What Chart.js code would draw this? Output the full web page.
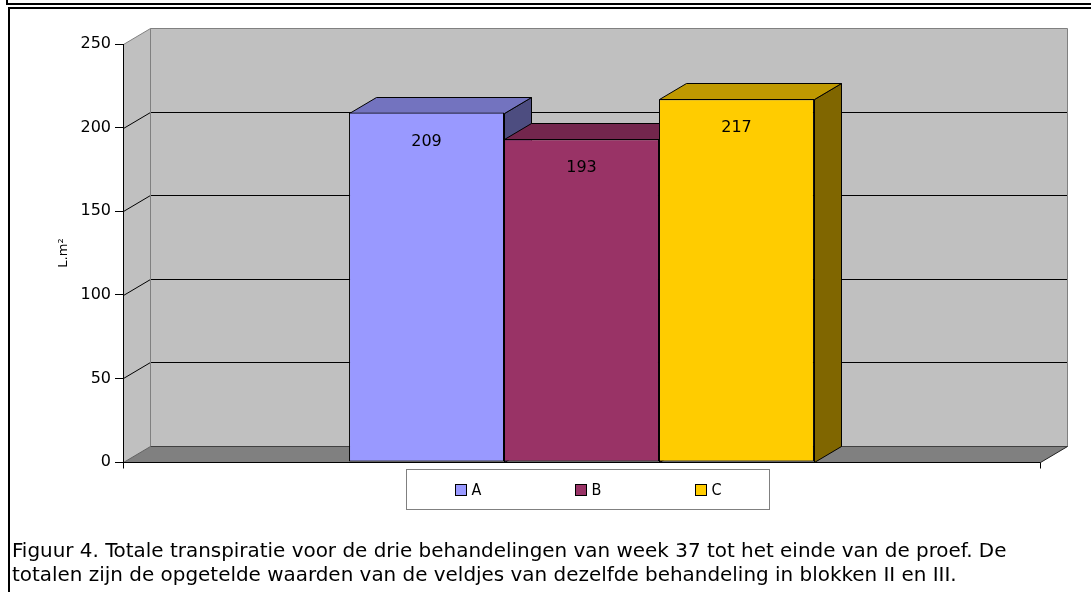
<!DOCTYPE html>
<html>
<head>
<meta charset="utf-8">
<script src="https://cdn.jsdelivr.net/npm/chart.js@4/dist/chart.umd.min.js"></script>
<style>
  body { margin: 0; background: #fff; width: 1091px; height: 592px; overflow: hidden; position: relative; }
  #chart { position: absolute; left: 0; top: 0; }
  .line { position: absolute; background: #000; }
  #caption {
    position: absolute; left: 12px; top: 538px; white-space: nowrap;
    font-family: "Liberation Sans Narrow", "DejaVu Sans Condensed", sans-serif;
    font-size: 19px; line-height: 24px; color: #000;
    transform: scaleX(1.166); transform-origin: 0 0;
  }
</style>
</head>
<body>
<div class="line" style="left:6px;top:3px;width:1085px;height:2px"></div>
<div class="line" style="left:6px;top:0;width:2px;height:5px"></div>
<div class="line" style="left:8px;top:7px;width:1083px;height:2px"></div>
<div class="line" style="left:8px;top:7px;width:2px;height:585px"></div>
<canvas id="chart" width="1091" height="592"></canvas>
<div id="caption">Figuur 4. Totale transpiratie voor de drie behandelingen van week 37 tot het einde van de proef. De<br>totalen zijn de opgetelde waarden van de veldjes van dezelfde behandeling in blokken II en III.</div>
<script>
// data
var categories = [''];
var seriesNames = ['A', 'B', 'C'];
var seriesValues = [209, 193, 217];
var seriesColors = ['#9999FF', '#993366', '#FFCC00'];
var yTicks = [0, 50, 100, 150, 200, 250];

var depthX = 27, depthY = 16;

function shade(hex, f) {
  var n = parseInt(hex.slice(1), 16);
  var r = Math.round(((n >> 16) & 255) * f);
  var g = Math.round(((n >> 8) & 255) * f);
  var b = Math.round((n & 255) * f);
  return 'rgb(' + r + ',' + g + ',' + b + ')';
}

function poly(ctx, pts, fill, stroke) {
  ctx.beginPath();
  ctx.moveTo(pts[0][0], pts[0][1]);
  for (var i = 1; i < pts.length; i++) ctx.lineTo(pts[i][0], pts[i][1]);
  ctx.closePath();
  if (fill) { ctx.fillStyle = fill; ctx.fill(); }
  if (stroke) { ctx.strokeStyle = stroke; ctx.lineWidth = 1; ctx.stroke(); }
}

function line(ctx, pts, color) {
  ctx.beginPath();
  ctx.moveTo(pts[0][0], pts[0][1]);
  for (var i = 1; i < pts.length; i++) ctx.lineTo(pts[i][0], pts[i][1]);
  ctx.strokeStyle = color; ctx.lineWidth = 1; ctx.stroke();
}

var box3d = {
  id: 'box3d',
  beforeDatasetsDraw: function(chart) {
    var ctx = chart.ctx, a = chart.chartArea, ys = chart.scales.y;
    var L = Math.round(a.left) + 0.5, R = Math.round(a.right) + 0.5;
    var T = Math.round(a.top) + 0.5, B = Math.round(a.bottom) + 0.5;
    ctx.save();
    // walls and floor
    poly(ctx, [[L + depthX, T - depthY], [R + depthX, T - depthY], [R + depthX, B - depthY], [L + depthX, B - depthY]], '#C0C0C0');
    poly(ctx, [[L, T], [L + depthX, T - depthY], [L + depthX, B - depthY], [L, B]], '#C0C0C0');
    poly(ctx, [[L, B], [R, B], [R + depthX, B - depthY], [L + depthX, B - depthY]], '#808080');
    // grid lines
    yTicks.forEach(function(v) {
      if (v === 0 || v === yTicks[yTicks.length - 1]) return;
      var y = Math.round(ys.getPixelForValue(v)) + 0.5;
      line(ctx, [[L, y], [L + depthX, y - depthY], [R + depthX, y - depthY]], '#000');
    });
    line(ctx, [[L, T], [L + depthX, T - depthY], [R + depthX, T - depthY], [R + depthX, B - depthY]], '#808080');
    line(ctx, [[L + depthX, T - depthY], [L + depthX, B - depthY]], '#808080');
    line(ctx, [[L + depthX, B - depthY], [R + depthX, B - depthY]], '#404040');
    line(ctx, [[L, B], [L + depthX, B - depthY]], '#606060');
    line(ctx, [[R, B], [R + depthX, B - depthY]], '#202020');
    // bar sides and tops
    chart.data.datasets.forEach(function(ds, i) {
      var bar = chart.getDatasetMeta(i).data[0];
      var p = bar.getProps(['x', 'y', 'base', 'width'], true);
      var l = Math.round(p.x - p.width / 2) + 0.5, r = Math.round(p.x + p.width / 2) + 0.5;
      var t = Math.round(p.y) + 0.5, b = Math.round(p.base) + 0.5;
      poly(ctx, [[r, t], [r + depthX, t - depthY], [r + depthX, b - depthY], [r, b]], shade(seriesColors[i], 0.5), '#000');
      poly(ctx, [[l, t], [r, t], [r + depthX, t - depthY], [l + depthX, t - depthY]], shade(seriesColors[i], 0.75), '#000');
    });
    ctx.restore();
  },
  afterDatasetsDraw: function(chart) {
    var ctx = chart.ctx, a = chart.chartArea;
    var L = Math.round(a.left) + 0.5, R = Math.round(a.right) + 0.5;
    var T = Math.round(a.top), B = Math.round(a.bottom) + 0.5;
    ctx.save();
    // axes
    line(ctx, [[L, T], [L, B + 6]], '#000');
    line(ctx, [[L, B], [R, B]], '#000');
    line(ctx, [[R, B], [R, B + 6]], '#000');
    // value labels
    ctx.font = '16px "DejaVu Sans"';
    ctx.fillStyle = '#000';
    ctx.textAlign = 'center';
    ctx.textBaseline = 'middle';
    chart.data.datasets.forEach(function(ds, i) {
      var bar = chart.getDatasetMeta(i).data[0];
      ctx.fillText(String(ds.data[0]), bar.x, bar.y + 29);
    });
    // legend
    var cx = (a.left + a.right) / 2 + 5;
    var bx = Math.round(cx - 181) + 0.5, by = Math.round(a.bottom) + 7.5;
    ctx.fillStyle = '#fff';
    ctx.fillRect(bx, by, 363, 40);
    ctx.strokeStyle = '#808080';
    ctx.strokeRect(bx, by, 363, 40);
    ctx.font = '16px "Liberation Sans Narrow", "DejaVu Sans Condensed", sans-serif';
    ctx.textAlign = 'left';
    chart.data.datasets.forEach(function(ds, i) {
      var mx = bx + 49 + i * 120;
      ctx.fillStyle = ds.backgroundColor;
      ctx.fillRect(mx, by + 15, 11, 11);
      ctx.strokeStyle = '#000';
      ctx.strokeRect(mx, by + 15, 11, 11);
      ctx.fillStyle = '#000';
      ctx.fillText(ds.label, mx + 16, by + 21);
    });
    ctx.restore();
  }
};

new Chart(document.getElementById('chart'), {
  type: 'bar',
  data: {
    labels: categories,
    datasets: seriesNames.map(function(name, i) {
      return {
        label: name,
        data: [seriesValues[i]],
        backgroundColor: seriesColors[i],
        borderColor: '#000',
        borderWidth: 1,
        borderSkipped: false
      };
    })
  },
  options: {
    responsive: false,
    devicePixelRatio: 1,
    animation: false,
    categoryPercentage: 0.507,
    barPercentage: 1.0,
    layout: { padding: { left: 0, top: 44, right: 51, bottom: 130 } },
    plugins: { legend: { display: false }, tooltip: { enabled: false } },
    scales: {
      x: { display: false },
      y: {
        min: 0, max: 250,
        afterBuildTicks: function(scale) {
          scale.ticks = yTicks.map(function(v) { return { value: v }; });
        },
        afterFit: function(scale) { scale.width = 123; },
        grid: { display: true, drawOnChartArea: false, drawTicks: true, tickLength: 8, color: '#000' },
        border: { display: false },
        ticks: { padding: 4, color: '#000', font: { family: 'DejaVu Sans', size: 16 } },
        title: {
          display: true, text: 'L.m²', color: '#000',
          font: { family: 'DejaVu Sans', size: 13 },
          padding: { top: 56, bottom: 0 }
        }
      }
    }
  },
  plugins: [box3d]
});
</script>
</body>
</html>
